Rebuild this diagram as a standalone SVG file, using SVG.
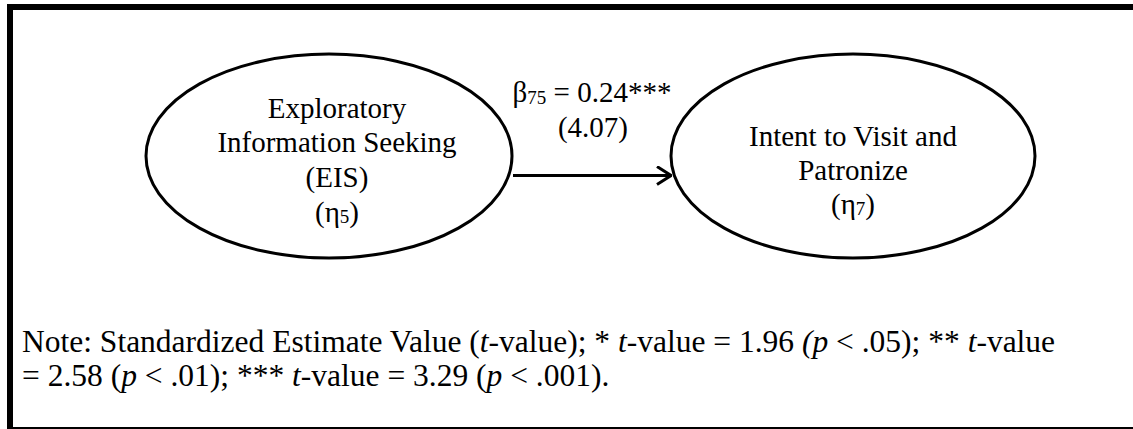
<svg xmlns="http://www.w3.org/2000/svg" width="1133" height="429" viewBox="0 0 1133 429">
<style>
  text { font-family: "Liberation Serif", "Times New Roman", serif; fill: #000; }
  .lbl { font-size: 29px; text-anchor: middle; }
  .note { font-size: 31.5px; }
  .sub { font-size: 19px; }
  .node { fill: #fff; stroke: #000; stroke-width: 3; }
  .edge { fill: none; stroke: #000; stroke-width: 3; }
</style>
<defs>
  <marker id="open" viewBox="0 0 16 20" refX="15" refY="10" markerWidth="16" markerHeight="20" markerUnits="userSpaceOnUse" orient="auto">
    <path d="M1,1 L15,10 L1,19" fill="none" stroke="#000" stroke-width="3"/>
  </marker>
</defs>
<rect x="0" y="0" width="1133" height="429" fill="#fff"/>
<g id="frame">
  <rect x="7" y="4" width="1126" height="6" fill="#000"/>
  <rect x="7" y="4" width="6" height="425" fill="#000"/>
  <rect x="7" y="427" width="1126" height="2" fill="#000"/>
</g>
<g id="connectors">
  <line class="edge" x1="513" y1="175.5" x2="671" y2="175.5" marker-end="url(#open)"/>
  <text class="lbl" x="592" y="102">β<tspan class="sub" dy="2">75</tspan><tspan dy="-2"> = 0.24***</tspan></text>
  <text class="lbl" x="593" y="137">(4.07)</text>
</g>
<g id="node-eis">
  <ellipse class="node" cx="329" cy="156" rx="183" ry="102"/>
  <text class="lbl" x="337" y="118">Exploratory</text>
  <text class="lbl" x="337" y="152">Information Seeking</text>
  <text class="lbl" x="337" y="187">(EIS)</text>
  <text class="lbl" x="337" y="222">(η<tspan class="sub" dy="1">5</tspan><tspan dy="-1">)</tspan></text>
</g>
<g id="node-intent">
  <ellipse class="node" cx="853" cy="156" rx="182" ry="102"/>
  <text class="lbl" x="853" y="146">Intent to Visit and</text>
  <text class="lbl" x="853" y="180">Patronize</text>
  <text class="lbl" x="853" y="214">(η<tspan class="sub" dy="1">7</tspan><tspan dy="-1">)</tspan></text>
</g>
<g id="note">
  <text class="note" x="22" y="352">Note: Standardized Estimate Value (<tspan font-style="italic">t</tspan>-value); * <tspan font-style="italic">t</tspan>-value = 1.96 <tspan font-style="italic">(p</tspan> &lt; .05); ** <tspan font-style="italic">t</tspan>-value</text>
  <text class="note" x="22" y="386">= 2.58 (<tspan font-style="italic">p</tspan> &lt; .01); *** <tspan font-style="italic">t</tspan>-value = 3.29 (<tspan font-style="italic">p</tspan> &lt; .001).</text>
</g>
</svg>
